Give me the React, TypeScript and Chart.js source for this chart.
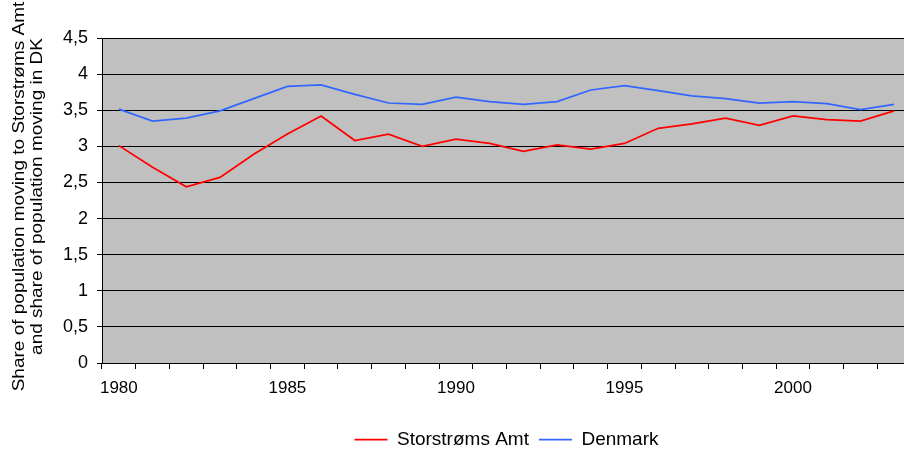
import React, { useEffect, useRef } from "react";
import { Chart, registerables } from "chart.js";

Chart.register(...registerables);

const years: string[] = [
  "1980", "1981", "1982", "1983", "1984", "1985", "1986", "1987", "1988", "1989", "1990", "1991",
  "1992", "1993", "1994", "1995", "1996", "1997", "1998", "1999", "2000", "2001", "2002", "2003",
];

const storstromsAmt: number[] = [
  3.01, 2.71, 2.44, 2.57, 2.89, 3.17, 3.42, 3.08, 3.17, 3.0, 3.1, 3.04,
  2.93, 3.02, 2.96, 3.04, 3.25, 3.31, 3.39, 3.29, 3.42, 3.37, 3.35, 3.49,
];

const denmark: number[] = [
  3.515, 3.35, 3.39, 3.49, 3.66, 3.83, 3.85, 3.72, 3.6, 3.58, 3.68, 3.62,
  3.58, 3.62, 3.78, 3.84, 3.77, 3.7, 3.66, 3.6, 3.62, 3.59, 3.51, 3.58,
];

const seriesNames: string[] = ["Storstrøms Amt", "Denmark"];
const yTitleLines: string[] = [
  "Share of population moving to Storstrøms Amt",
  "and share of population moving in DK",
];

const FONT = "'Liberation Sans', Arial, sans-serif";

const plotBackground = {
  id: "plotBackground",
  beforeDraw(chart: any) {
    const { ctx, chartArea } = chart;
    ctx.save();
    ctx.fillStyle = "#C0C0C0";
    ctx.fillRect(chartArea.left, chartArea.top, chartArea.right - chartArea.left, chartArea.bottom - chartArea.top);
    ctx.restore();
  },
};

const yTitle = {
  id: "yTitle",
  afterDraw(chart: any) {
    const { ctx, chartArea } = chart;
    const cy = (chartArea.top + chartArea.bottom) / 2 - 4;
    const baselines = [24.3, 41.7];
    ctx.save();
    ctx.fillStyle = "#000";
    ctx.font = `19px ${FONT}`;
    ctx.textAlign = "center";
    ctx.textBaseline = "alphabetic";
    yTitleLines.forEach((line, i) => {
      ctx.save();
      ctx.translate(baselines[i], cy);
      ctx.rotate(-Math.PI / 2);
      ctx.scale(1, 0.85);
      ctx.fillText(line, 0, 0);
      ctx.restore();
    });
    ctx.restore();
  },
};

export default function App() {
  const canvasRef = useRef<HTMLCanvasElement | null>(null);

  useEffect(() => {
    if (!canvasRef.current) return;
    Chart.defaults.font.family = FONT;
    Chart.defaults.color = "#000";
    const chart = new Chart(canvasRef.current, {
      type: "line",
      data: {
        labels: years,
        datasets: [
          {
            label: seriesNames[0],
            data: storstromsAmt,
            borderColor: "#FF0000",
            backgroundColor: "#FF0000",
            borderWidth: 1.75,
            pointRadius: 0,
            tension: 0,
          },
          {
            label: seriesNames[1],
            data: denmark,
            borderColor: "#3366FF",
            backgroundColor: "#3366FF",
            borderWidth: 1.75,
            pointRadius: 0,
            tension: 0,
          },
        ],
      },
      options: {
        responsive: false,
        animation: false,
        devicePixelRatio: 1,
        layout: { padding: { top: 38, left: 0, right: 0, bottom: 0 } },
        plugins: {
          legend: {
            position: "bottom",
            fullSize: false,
            labels: {
              usePointStyle: true,
              pointStyle: "line",
              pointStyleWidth: 33,
              padding: 10,
              font: { size: 19 },
              color: "#000",
            },
          },
          tooltip: { enabled: false },
        },
        scales: {
          x: {
            type: "category",
            offset: true,
            afterFit: (s: any) => {
              s.height = 57;
            },
            grid: {
              offset: true,
              drawOnChartArea: false,
              drawTicks: true,
              tickLength: 6,
              color: "#000",
            },
            border: { display: true, color: "#000", width: 1 },
            ticks: {
              autoSkip: false,
              maxRotation: 0,
              minRotation: 0,
              padding: 9,
              font: { size: 17 },
              color: "#000",
              callback: (_v: any, idx: number) => (Number(years[idx]) % 5 === 0 ? years[idx] : ""),
            },
          },
          y: {
            min: 0,
            max: 4.5,
            afterFit: (s: any) => {
              s.width = 102;
            },
            grid: {
              color: "#000",
              lineWidth: 1,
              drawTicks: true,
              tickLength: 5,
            },
            border: { display: true, color: "#000", width: 1 },
            ticks: {
              stepSize: 0.5,
              padding: 9,
              font: { size: 18 },
              color: "#000",
              callback: (v: any) => String(v).replace(".", ","),
            },
          },
        },
      },
      plugins: [plotBackground, yTitle],
    });
    return () => chart.destroy();
  }, []);

  return (
    <div
      style={{
        position: "fixed",
        left: 0,
        top: 0,
        width: 904,
        height: 451,
        overflow: "hidden",
        background: "#fff",
      }}
    >
      <canvas ref={canvasRef} width={911} height={459} style={{ display: "block" }} />
    </div>
  );
}
